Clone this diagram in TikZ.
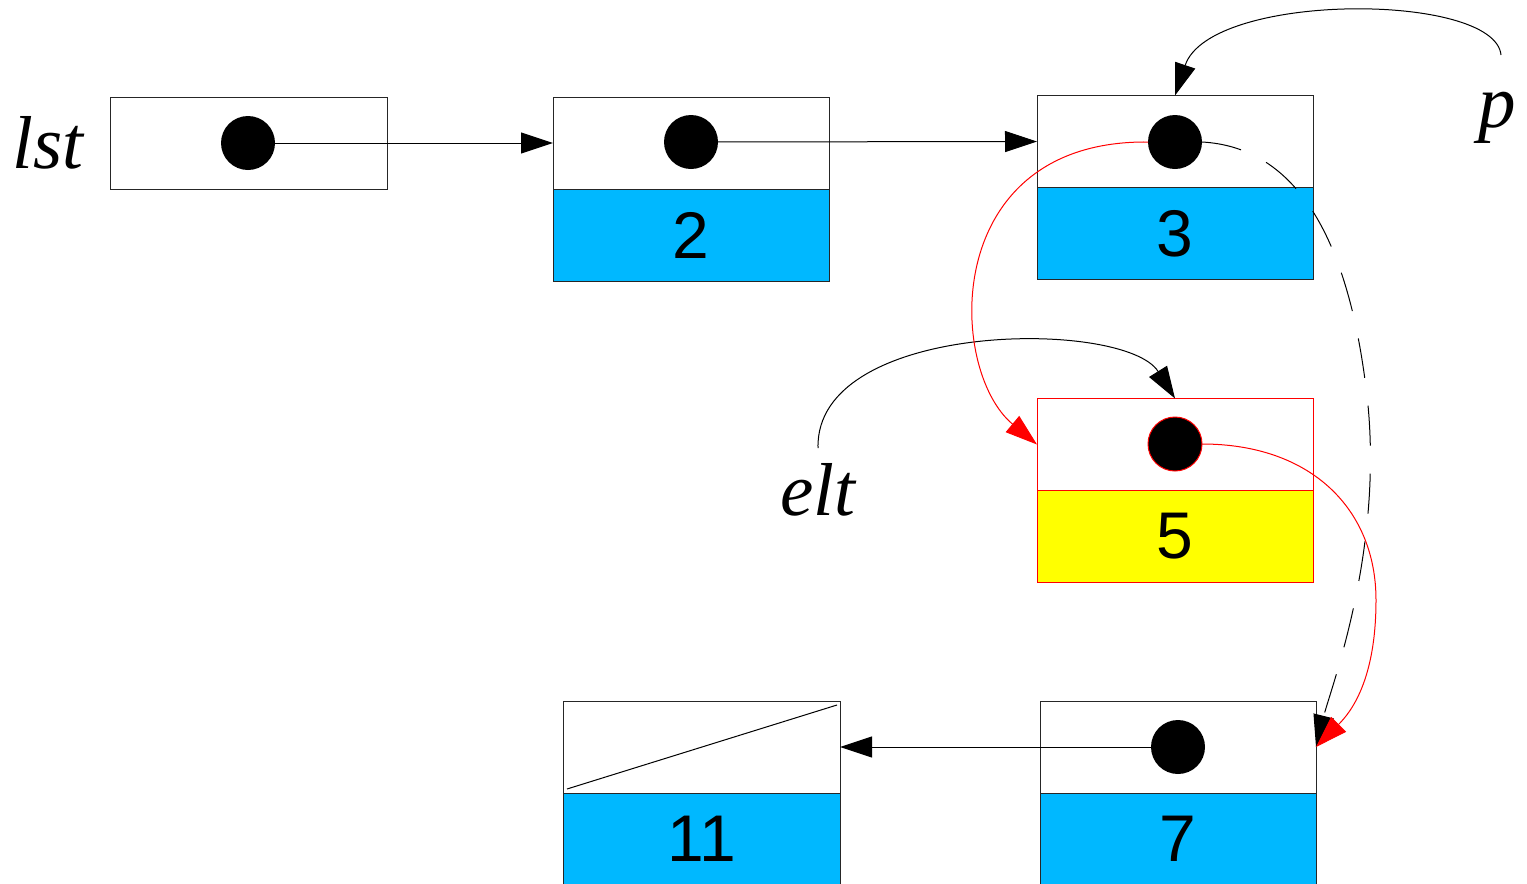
\documentclass[tikz,border=0pt]{standalone}
\usepackage{fontspec}
\setmainfont{Liberation Serif}
\newfontfamily\numfont{Liberation Sans}
\usetikzlibrary{calc,arrows.meta,positioning}

\definecolor{cCellBlue}{RGB}{0,184,255}
\definecolor{cCellYellow}{RGB}{255,255,0}
\definecolor{cPtrRed}{RGB}{255,0,0}

\tikzset{
  cellTop/.style={draw=black!85, line width=1pt, minimum width=276pt, minimum height=92pt, inner sep=0pt, outer sep=0pt},
  cellVal/.style={cellTop, fill=cCellBlue, font=\numfont\fontsize{66}{72}\selectfont},
  dotPt/.style={circle, fill=black, minimum size=54pt, inner sep=0pt, outer sep=0pt},
  ptrArrow/.style={line width=1pt, -{Triangle[length=32pt,width=21pt]}},
  varLabel/.style={font=\itshape\fontsize{75}{86}\selectfont, anchor=base, inner sep=0pt},
}

\begin{document}
\begin{tikzpicture}[x=1pt,y=-1pt]
        \useasboundingbox (0,0) rectangle (1527,884);

        % the list cells
        \node[cellTop, minimum width=277pt] (nLstTop) at (248.5,143) {};
        \node[cellTop] (nTwoTop) at (691,143) {};
        \node[cellVal, below=0pt of nTwoTop] (nTwoVal) {2};
        \node[cellTop] (nThreeTop) at (1175,141.5) {};
        \node[cellVal, below=0pt of nThreeTop] (nThreeVal) {3};
        \node[cellTop, draw=cPtrRed] (nFiveTop) at (1175,444.5) {};
        \node[cellVal, draw=cPtrRed, fill=cCellYellow, below=0pt of nFiveTop] (nFiveVal) {5};
        \node[cellTop] (nSevenTop) at (1178,747) {};
        \node[cellVal, below=0pt of nSevenTop] (nSevenVal) {7};
        \node[cellTop, minimum width=277pt] (nElevenTop) at (701.5,747) {};
        \node[cellVal, minimum width=277pt, below=0pt of nElevenTop] (nElevenVal) {11};

        % null pointer
        \coordinate (cNullA) at ($(nElevenTop.south west)+(4,-4)$);
        \coordinate (cNullB) at ($(nElevenTop.north east)+(-3,4)$);
        \draw[line width=1pt] (cNullA) -- (cNullB);

        % pointer dots
        \node[dotPt] (dLst) at (248,143) {};
        \node[dotPt] (dTwo) at (691,142) {};
        \node[dotPt] (dThree) at (1175,142) {};
        \node[dotPt, draw=cPtrRed, line width=1pt] (dFive) at (1175,444) {};
        \node[dotPt] (dSeven) at (1178,747) {};

        % variable names
        \node[varLabel] (lLst) at (48,168) {lst};
        \node[varLabel] (lP) at (1497,127) {p};
        \node[varLabel] (lElt) at (818,515) {elt};
        \coordinate (cPStart) at (1501,55);
        \coordinate (cEltStart) at (818,448);

        \draw[ptrArrow] (dLst) -- (nTwoTop.west);
        \draw[ptrArrow] (dTwo) -- (nThreeTop.west);
        \draw[ptrArrow] (dSeven) -- (nElevenTop.east);
        \draw[ptrArrow] (cPStart) .. controls +(-6,-63) and +(35,-104) .. (nThreeTop.north);
        \draw[ptrArrow] (cEltStart) .. controls +(-3,-128) and +(-50,-80) .. (nFiveTop.north);

        % old link, now replaced
        \coordinate (cDashMid) at (1365,380);
        \draw[ptrArrow, dash pattern=on 40pt off 28pt] (dThree.east) .. controls +(90,5) and +(-20,-150) .. (cDashMid)
              .. controls +(23,160) and +(15,-60) .. (nSevenTop.east);

        % new links
        \coordinate (cRedMid) at (1376,600);
        \draw[ptrArrow, cPtrRed] (dThree.west) .. controls +(-208,-2) and +(-90,-75) .. (nFiveTop.west);
        \draw[ptrArrow, cPtrRed] (dFive.east) .. controls +(110,0) and +(0,-90) .. (cRedMid)
              .. controls +(0,80) and +(35,-35) .. (nSevenTop.east);
        \end{tikzpicture}
\end{document}
